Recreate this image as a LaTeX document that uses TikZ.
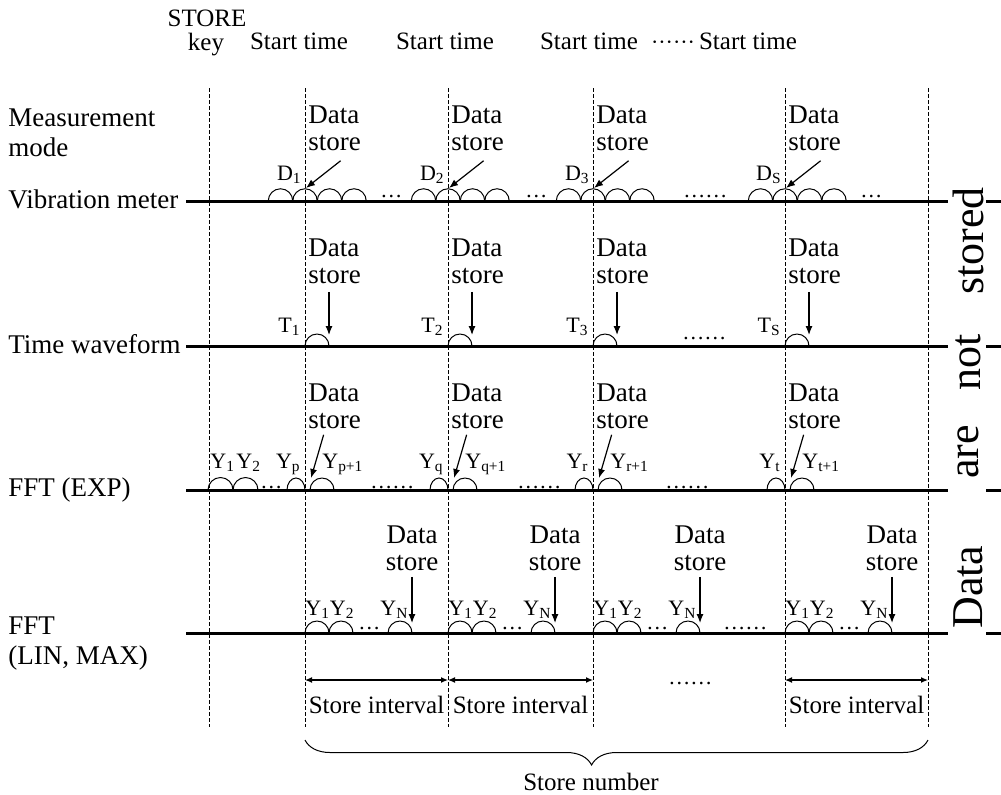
\documentclass[tikz,border=0pt]{standalone}
\usepackage{fontspec}
\setmainfont{Liberation Serif}
\usetikzlibrary{arrows.meta,positioning,calc,decorations.pathreplacing}

\newcommand{\lowsub}[1]{\textsubscript{#1}}

\tikzset{
  lbl/.style={font=\fontsize{13.5}{15}\selectfont,inner sep=0pt,align=left},
  hdr/.style={font=\fontsize{12.5}{14}\selectfont,inner sep=0pt},
  dstore/.style={font=\fontsize{13.5}{13.5}\selectfont,inner sep=0pt,align=left},
  dstorec/.style={dstore,align=center},
  sublbl/.style={font=\fontsize{11}{12}\selectfont,inner sep=0pt},
  axisline/.style={line width=1.5pt},
  guide/.style={line width=0.5pt,dash pattern=on 2.2pt off 0.8pt},
  bump/.style={line width=0.5pt},
  tip/.style={line width=0.6pt,-{Latex[length=4.5pt,width=3.5pt]}},
  span/.style={line width=0.6pt,{Latex[length=3.5pt,width=3pt]}-{Latex[length=3.5pt,width=3pt]}},
  bigword/.style={font=\fontsize{22}{24}\selectfont,inner sep=0pt,rotate=90}
}

\begin{document}
\begin{tikzpicture}[x=0.5pt,y=-0.5pt]
  \useasboundingbox (0,0) rectangle (1001,794);
  % guides and time axes
  \foreach \dx in {209,305,448,593,785,928} { \draw[guide] (\dx,88) -- (\dx,727); }
  \foreach \r in {201,346,490,633} { \draw[axisline] (186,\r) -- (948,\r); \draw[axisline] (986,\r) -- (1001,\r); }

  % header
  \node[hdr,anchor=base] (storekey) at (207,26) {STORE};
  \node[hdr,anchor=base] (key) at (206,50) {key};
  \foreach \x/\nm in {299/1,445/2,589/3,748/4} { \node[hdr,anchor=base] (start\nm) at (\x,49) {Start time}; }
  \node[sublbl,anchor=base] (hdots) at (673,49) {······};

  % row labels
  \node[lbl,anchor=north west] (mode) at (8,108) {Measurement\\mode};
  \node[lbl,anchor=base west] (vib) at (8,208) {Vibration meter};
  \node[lbl,anchor=base west] (twf) at (8,353) {Time waveform};
  \node[lbl,anchor=base west] (exp) at (8,496) {FFT (EXP)};
  \node[lbl,anchor=north west] (lin) at (8,616) {FFT\\(LIN, MAX)};

  % side text
  \node[bigword] (wdata) at (968,587) {Data};
  \node[bigword] (ware) at (968,452) {are};
  \node[bigword] (wnot) at (968,362) {not};
  \node[bigword] (wstored) at (968,241) {stored};

  % vibration meter
  \foreach \dx/\nm in {305/1,448/2,593/3,785/S} {
    \foreach \k in {-1,0,1,2} { \draw[bump] ({\dx+24.5*\k-12.25},201) arc[start angle=180,end angle=0,radius=6.125pt]; }
    \node[sublbl,anchor=base east] (d\nm) at (\dx-3,180) {D\lowsub{\nm}};
    \node[dstore,anchor=north west] (ds\nm) at (\dx+3,105) {Data\\store};
    \coordinate (dt\nm) at (\dx+1,188);
    \draw[tip] ($(ds\nm.south)+(6,10)$) -- (dt\nm);
  }
  \foreach \x/\t in {380/…,525/…,683/……,860/…} { \node[sublbl,anchor=base west] (vd\x) at (\x,197) {\t}; }

  % time waveform
  \foreach \dx/\nm in {305/1,448/2,593/3,785/S} {
    \draw[bump] (\dx,346) arc[start angle=180,end angle=0,radius=6pt];
    \node[sublbl,anchor=base east] (t\nm) at (\dx-4,332) {T\lowsub{\nm}};
    \node[dstore,anchor=north west] (ts\nm) at (\dx+3,238) {Data\\store};
    \coordinate (tt\nm) at (\dx+24,335);
    \draw[tip] ($(ts\nm.south -| tt\nm)+(0,8)$) -- (tt\nm);
  }
  \node[sublbl,anchor=base west] (tdots) at (682,339) {……};

  % FFT (EXP)
  \draw[bump] (208,490) arc[start angle=180,end angle=0,radius=6.25pt];
  \draw[bump] (233,490) arc[start angle=180,end angle=0,radius=6.25pt];
  \node[sublbl,anchor=base west] (y1) at (210,468) {Y\lowsub{1}};
  \node[sublbl,anchor=base west] (y2) at (236,468) {Y\lowsub{2}};
  \foreach \dx/\sa/\sb in {305/p/p+1,448/q/q+1,593/r/r+1,785/t/t+1} {
    \draw[bump] (\dx-18,490) arc[start angle=180,end angle=0,x radius=4.5pt,y radius=6pt];
    \draw[bump] (\dx+5,490) arc[start angle=180,end angle=0,radius=6pt];
    \node[sublbl,anchor=base east] (ya\sa) at (\dx-4,468) {Y\lowsub{\sa}};
    \node[sublbl,anchor=base west] (yb\sa) at (\dx+17,468) {Y\lowsub{\sb}};
    \node[dstore,anchor=north west] (es\sa) at (\dx+3,383) {Data\\store};
    \coordinate (et\sa) at (\dx+6,478);
    \draw[tip] ($(es\sa.south)+(-11,6)$) -- (et\sa);
  }
  \foreach \x/\t in {260/…,370/……,517/……,665/……} { \node[sublbl,anchor=base west] (ed\x) at (\x,488) {\t}; }

  % FFT (LIN, MAX)
  \foreach \dx/\nm in {305/1,448/2,593/3,785/4} {
    \foreach \o in {0,24,83} { \draw[bump] (\dx+\o,633) arc[start angle=180,end angle=0,radius=6pt]; }
    \node[sublbl,anchor=base west] (yy\nm) at (\dx,615) {Y\lowsub{1}Y\lowsub{2}};
    \node[sublbl,anchor=base west] (yn\nm) at (\dx+75,615) {Y\lowsub{N}};
    \node[sublbl,anchor=base west] (ld\nm) at (\dx+53,629) {…};
    \node[dstorec,anchor=north] (ls\nm) at (\dx+107,525) {Data\\store};
    \coordinate (lt\nm) at (\dx+107,623);
    \draw[tip] ($(ls\nm.south)+(0,6)$) -- (lt\nm);
  }
  \node[sublbl,anchor=base west] (lindots) at (723,629) {……};

  % store interval and number
  \foreach \a/\b/\nm in {305/448/1,448/593/2,785/928/3} {
    \coordinate (ia\nm) at (\a,680);
    \coordinate (ib\nm) at (\b,680);
    \draw[span] (ia\nm) -- (ib\nm);
    \node[hdr] (iv\nm) at ({(\a+\b)/2},705) {Store interval};
  }
  \node[sublbl,anchor=base west] (idots) at (668,684) {……};
  \coordinate (bl) at (305,740);
  \coordinate (br) at (928,740);
  \draw[line width=0.5pt,decorate,decoration={brace,amplitude=12.5pt,aspect=0.54}] (br) -- (bl);
  \node[hdr] (num) at (591,782) {Store number};
\end{tikzpicture}
\end{document}
